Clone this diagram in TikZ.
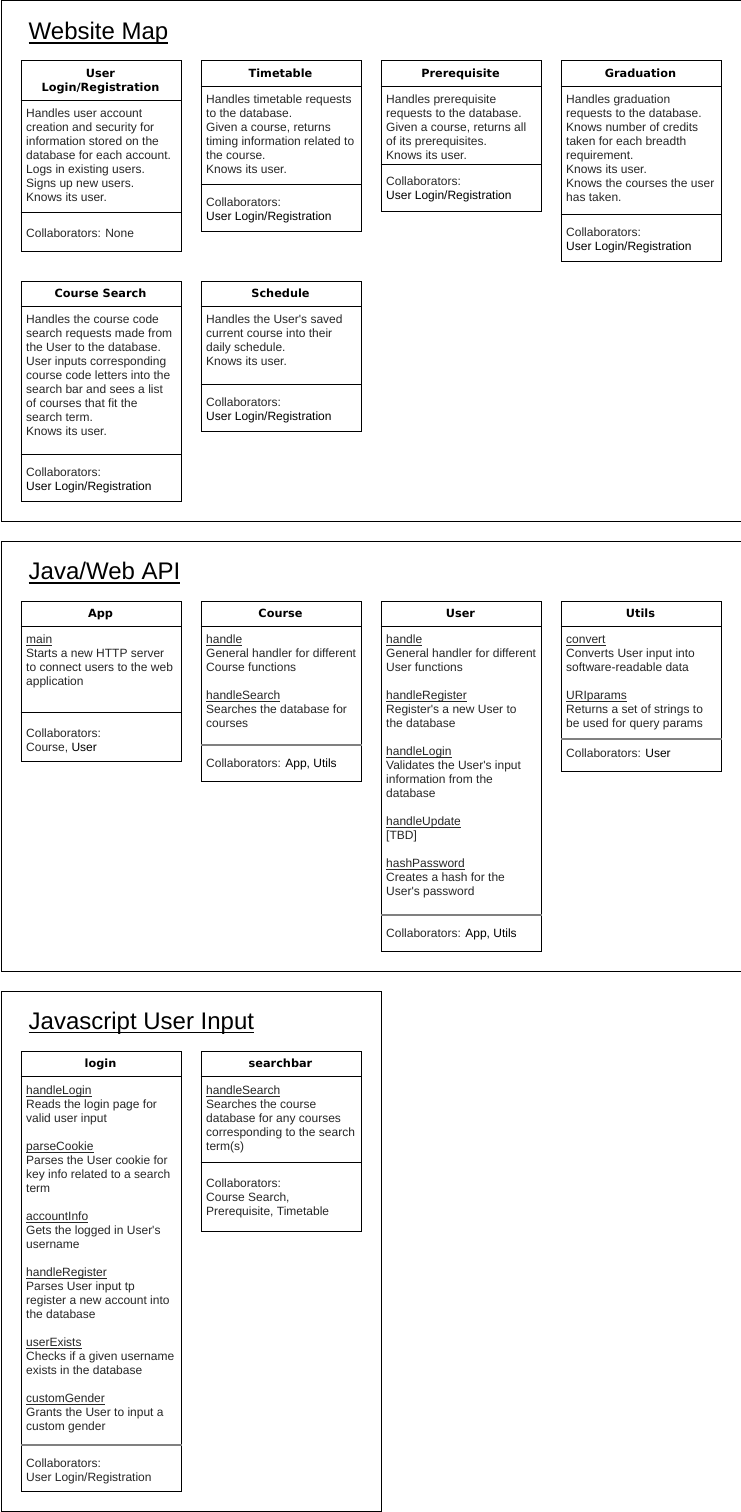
\documentclass[tikz,border=0pt]{standalone}
\usepackage{fontspec}
\setmainfont{Liberation Sans}
\newfontfamily\hdrfont{DejaVu Sans}
\newsavebox\mnbox
\newcommand\mname[1]{\sbox\mnbox{#1}\rlap{\rule[-1.8pt]{\wd\mnbox}{0.75pt}}\usebox\mnbox}
\newcommand\ttlul[1]{\sbox\mnbox{#1}\rlap{\rule[-4.3pt]{\wd\mnbox}{1.7pt}}\usebox\mnbox}
\newcommand\aq{\textquotesingle}
\definecolor{txt}{HTML}{262626}
\definecolor{divgray}{HTML}{808080}
\tikzset{
  frame/.style={draw=black, line width=1pt, anchor=north west, inner sep=0pt},
  crc/.style={draw=black, line width=1pt, anchor=north west, inner sep=0pt, minimum width=160pt},
  hdr/.style={font=\hdrfont\bfseries\fontsize{11.3}{14}\selectfont, anchor=north, inner sep=0pt, align=center},
  body/.style={font=\fontsize{12}{14}\selectfont, text=txt, anchor=north west, inner sep=0pt, align=left},
  ttl/.style={font=\fontsize{24}{28}\selectfont, anchor=base west, inner sep=0pt},
  div/.style={line width=1pt, draw=black},
  gdiv/.style={line width=1.6pt, draw=divgray},
}
\begin{document}
\begin{tikzpicture}[x=1pt,y=-1pt]
\useasboundingbox (0,0) rectangle (741,1512);
% ---------------- Frame 1 ----------------
\node[frame, minimum width=740pt, minimum height=520pt] (f1) at (0.5,0.5) {};
\node[ttl] (t1) at (28.5,39.5) {\ttlul{Website Map}};
% User Login/Registration
\node[crc, minimum height=190pt] (bUL) at (20.5,60.5) {};
\draw[div] (bUL.west |- 0,100.5) -- (bUL.east |- 0,100.5);
\draw[div] (bUL.west |- 0,212.5) -- (bUL.east |- 0,212.5);
\node[hdr] (hUL) at (100.5,67.4) {\strut User\\Login/Registration};
\node[body] (xUL) at (26,107.4) {\strut Handles user account\\creation and security for\\information stored on the\\database for each account.\\Logs in existing users.\\Signs up new users.\\Knows its user.};
\node[body] (cUL) at (26,227) {\strut Collaborators: None};
% Timetable
\node[crc, minimum height=170pt] (bTT) at (200.5,60.5) {};
\draw[div] (bTT.west |- 0,86.5) -- (bTT.east |- 0,86.5);
\draw[div] (bTT.west |- 0,184.5) -- (bTT.east |- 0,184.5);
\node[hdr] (hTT) at (280.5,67.4) {\strut Timetable};
\node[body] (xTT) at (206,93.7) {\strut Handles timetable requests\\to the database.\\Given a course, returns\\timing information related to\\the course.\\Knows its user.};
\node[body] (cTT) at (206,196.4) {\strut Collaborators:\\{\color{black}User Login/Registration}};
% Prerequisite
\node[crc, minimum height=150pt] (bPR) at (380.5,60.5) {};
\draw[div] (bPR.west |- 0,86.5) -- (bPR.east |- 0,86.5);
\draw[div] (bPR.west |- 0,164.5) -- (bPR.east |- 0,164.5);
\node[hdr] (hPR) at (460.5,67.4) {\strut Prerequisite};
\node[body] (xPR) at (386,93.7) {\strut Handles prerequisite\\requests to the database.\\Given a course, returns all\\of its prerequisites.\\Knows its user.};
\node[body] (cPR) at (386,175.4) {\strut Collaborators:\\{\color{black}User Login/Registration}};
% Graduation
\node[crc, minimum height=200pt] (bGR) at (560.5,60.5) {};
\draw[div] (bGR.west |- 0,86.5) -- (bGR.east |- 0,86.5);
\draw[div] (bGR.west |- 0,214.5) -- (bGR.east |- 0,214.5);
\node[hdr] (hGR) at (640.5,67.4) {\strut Graduation};
\node[body] (xGR) at (566,93.7) {\strut Handles graduation\\requests to the database.\\Knows number of credits\\taken for each breadth\\requirement.\\Knows its user.\\Knows the courses the user\\has taken.};
\node[body] (cGR) at (566,226.4) {\strut Collaborators:\\{\color{black}User Login/Registration}};
% Course Search
\node[crc, minimum height=220pt] (bCS) at (20.5,280.5) {};
\draw[div] (bCS.west |- 0,306.5) -- (bCS.east |- 0,306.5);
\draw[div] (bCS.west |- 0,454.5) -- (bCS.east |- 0,454.5);
\node[hdr] (hCS) at (100.5,287.4) {\strut Course Search};
\node[body] (xCS) at (26,313.7) {\strut Handles the course code\\search requests made from\\the User to the database.\\User inputs corresponding\\course code letters into the\\search bar and sees a list\\of courses that fit the\\search term.\\Knows its user.};
\node[body] (cCS) at (26,466.1) {\strut Collaborators:\\{\color{black}User Login/Registration}};
% Schedule
\node[crc, minimum height=150pt] (bSC) at (200.5,280.5) {};
\draw[div] (bSC.west |- 0,306.5) -- (bSC.east |- 0,306.5);
\draw[div] (bSC.west |- 0,384.5) -- (bSC.east |- 0,384.5);
\node[hdr] (hSC) at (280.5,287.4) {\strut Schedule};
\node[body] (xSC) at (206,313.7) {\strut Handles the User\aq s saved\\current course into their\\daily schedule.\\Knows its user.};
\node[body] (cSC) at (206,396.1) {\strut Collaborators:\\{\color{black}User Login/Registration}};
% ---------------- Frame 2 ----------------
\node[frame, minimum width=740pt, minimum height=430pt] (f2) at (0.5,540.5) {};
\node[ttl] (t2) at (28.5,579.5) {\ttlul{Java/Web API}};
% App
\node[crc, minimum height=160pt] (bAPP) at (20.5,600.5) {};
\draw[div] (bAPP.west |- 0,626.5) -- (bAPP.east |- 0,626.5);
\draw[div] (bAPP.west |- 0,712.5) -- (bAPP.east |- 0,712.5);
\node[hdr] (hAPP) at (100.5,607.4) {\strut App};
\node[body] (xAPP) at (26,633.9) {\strut\mname{main}\\Starts a new HTTP server\\to connect users to the web\\application};
\node[body] (cAPP) at (26,727.7) {\strut Collaborators:\\Course, {\color{black}User}};
% Course
\node[crc, minimum height=180pt] (bCO) at (200.5,600.5) {};
\draw[div] (bCO.west |- 0,626.5) -- (bCO.east |- 0,626.5);
\draw[gdiv] (bCO.west |- 0,745) -- (bCO.east |- 0,745);
\node[hdr] (hCO) at (280.5,607.4) {\strut Course};
\node[body] (xCO) at (206,633.9) {\strut\mname{handle}\\General handler for different\\Course functions\\[14pt]\mname{handleSearch}\\Searches the database for\\courses};
\node[body] (cCO) at (206,757.7) {\strut Collaborators: {\color{black}App, Utils}};
% User
\node[crc, minimum height=350pt] (bUS) at (380.5,600.5) {};
\draw[div] (bUS.west |- 0,626.5) -- (bUS.east |- 0,626.5);
\draw[gdiv] (bUS.west |- 0,915) -- (bUS.east |- 0,915);
\node[hdr] (hUS) at (460.5,607.4) {\strut User};
\node[body] (xUS) at (386,633.9) {\strut\mname{handle}\\General handler for different\\User functions\\[14pt]\mname{handleRegister}\\Register\aq s a new User to\\the database\\[14pt]\mname{handleLogin}\\Validates the User\aq s input\\information from the\\database\\[14pt]\mname{handleUpdate}\\{[TBD]}\\[14pt]\mname{hashPassword}\\Creates a hash for the\\User\aq s password};
\node[body] (cUS) at (386,927.7) {\strut Collaborators: {\color{black}App, Utils}};
% Utils
\node[crc, minimum height=170pt] (bUT) at (560.5,600.5) {};
\draw[div] (bUT.west |- 0,626.5) -- (bUT.east |- 0,626.5);
\draw[gdiv] (bUT.west |- 0,739) -- (bUT.east |- 0,739);
\node[hdr] (hUT) at (640.5,607.4) {\strut Utils};
\node[body] (xUT) at (566,633.9) {\strut\mname{convert}\\Converts User input into\\software-readable data\\[14pt]\mname{URIparams}\\Returns a set of strings to\\be used for query params};
\node[body] (cUT) at (566,747.7) {\strut Collaborators: {\color{black}User}};
% ---------------- Frame 3 ----------------
\node[frame, minimum width=380pt, minimum height=520pt] (f3) at (0.5,990.5) {};
\node[ttl] (t3) at (28.5,1029) {\ttlul{Javascript User Input}};
% login
\node[crc, minimum height=440pt] (bLO) at (20.5,1050.5) {};
\draw[div] (bLO.west |- 0,1076.5) -- (bLO.east |- 0,1076.5);
\draw[gdiv] (bLO.west |- 0,1445) -- (bLO.east |- 0,1445);
\node[hdr] (hLO) at (100.5,1057.4) {\strut login};
\node[body] (xLO) at (26,1084.9) {\strut\mname{handleLogin}\\Reads the login page for\\valid user input\\[14pt]\mname{parseCookie}\\Parses the User cookie for\\key info related to a search\\term\\[14pt]\mname{accountInfo}\\Gets the logged in User\aq s\\username\\[14pt]\mname{handleRegister}\\Parses User input tp\\register a new account into\\the database\\[14pt]\mname{userExists}\\Checks if a given username\\exists in the database\\[14pt]\mname{customGender}\\Grants the User to input a\\custom gender};
\node[body] (cLO) at (26,1457.7) {\strut Collaborators:\\User Login/Registration};
% searchbar
\node[crc, minimum height=180pt] (bSB) at (200.5,1050.5) {};
\draw[div] (bSB.west |- 0,1076.5) -- (bSB.east |- 0,1076.5);
\draw[div] (bSB.west |- 0,1162.5) -- (bSB.east |- 0,1162.5);
\node[hdr] (hSB) at (280.5,1057.4) {\strut searchbar};
\node[body] (xSB) at (206,1084.9) {\strut\mname{handleSearch}\\Searches the course\\database for any courses\\corresponding to the search\\term(s)};
\node[body] (cSB) at (206,1177.7) {\strut Collaborators:\\Course Search,\\Prerequisite, Timetable};
\end{tikzpicture}
\end{document}
